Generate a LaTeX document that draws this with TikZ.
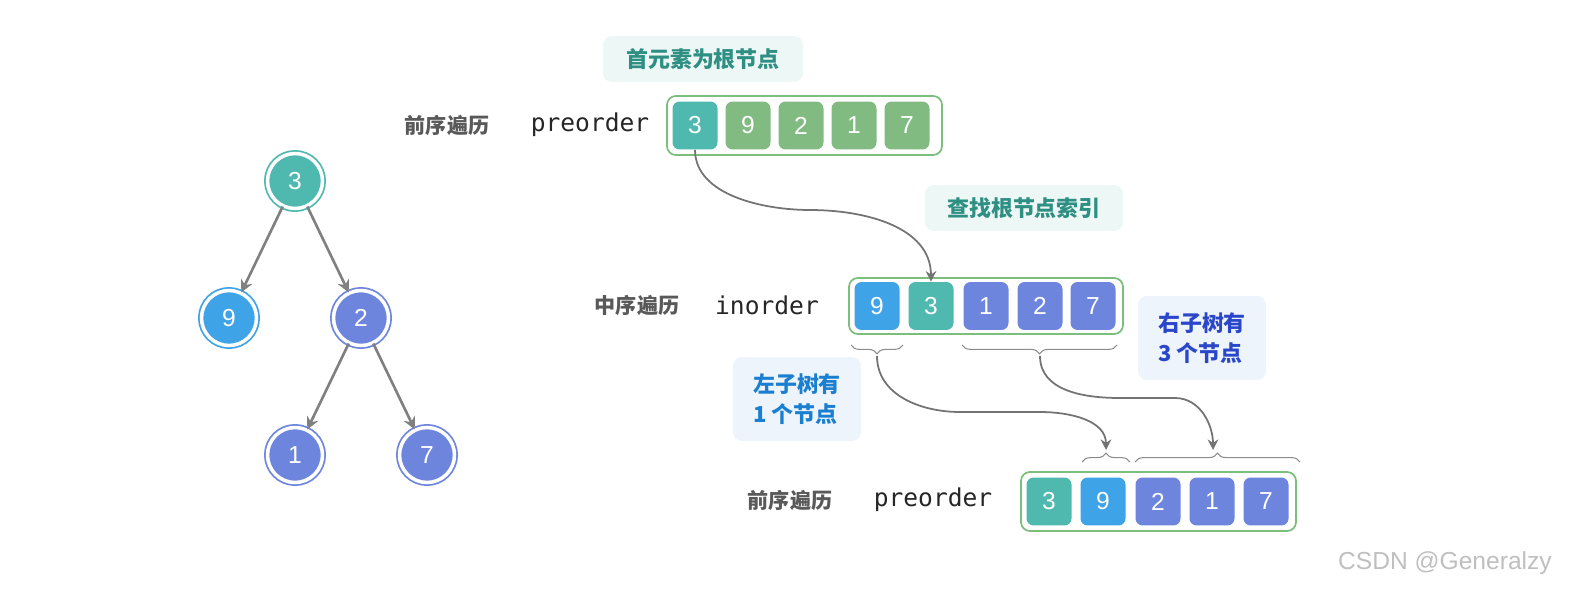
\documentclass[tikz,border=0pt]{standalone}
\usepackage{fontspec}
\setmainfont{Liberation Sans}
\setmonofont{DejaVu Sans Mono}
\newfontfamily\cjk{Noto Sans CJK SC}
\usetikzlibrary{decorations.pathreplacing,arrows.meta}
\definecolor{cteal}{HTML}{4FB9AF}
\definecolor{cgreen}{HTML}{82BB82}
\definecolor{cblue}{HTML}{3FA3E8}
\definecolor{cpur}{HTML}{6E85DE}
\definecolor{cbord}{HTML}{7CBF7C}
\definecolor{ltteal}{HTML}{EDF7F5}
\definecolor{ltblue}{HTML}{EEF4FC}
\definecolor{ttext}{HTML}{2E8F82}
\definecolor{btext}{HTML}{1A7FD0}
\definecolor{ptext}{HTML}{2B47C9}
\begin{document}
\begin{tikzpicture}[x=0.02cm,y=-0.02cm,
 cell/.style={rounded corners=4pt,minimum width=0.9cm,minimum height=0.96cm,text=white,font=\fontsize{14}{14}\selectfont,inner sep=0},
 outer/.style={draw=cbord,line width=1pt,rounded corners=5pt,fill=white},
 lab/.style={font=\cjk\bfseries\fontsize{12}{12}\selectfont,text=black!65},
 code/.style={font=\ttfamily\fontsize{14}{14}\selectfont,text=black!85},
 note/.style={rounded corners=5pt,font=\cjk\bfseries\fontsize{12.5}{17}\selectfont,align=left,inner sep=0},
 tn/.style={circle,minimum size=1.1cm,inner sep=0,text=white,font=\fontsize{14}{14}\selectfont,double=white,double distance=2pt,line width=1pt},
 edge/.style={draw=black!50,line width=1.5pt,-{Stealth[length=7pt,width=7pt]}},
 con/.style={draw=black!55,line width=1pt,-{Stealth[length=6pt,width=6pt]}},
 br/.style={draw=black!45,line width=0.6pt,decorate,decoration={brace,amplitude=5pt}}]
\useasboundingbox (0,0) rectangle (1593,598);
% tree
\node[tn,fill=cteal,draw=cteal] (t3) at (295,181) {3};
\node[tn,fill=cblue,draw=cblue] (t9) at (229,318) {9};
\node[tn,fill=cpur,draw=cpur] (t2) at (361,318) {2};
\node[tn,fill=cpur,draw=cpur] (t1) at (295,455) {1};
\node[tn,fill=cpur,draw=cpur] (t7) at (427,455) {7};
\draw[edge] (t3) -- (t9); \draw[edge] (t3) -- (t2);
\draw[edge] (t2) -- (t1); \draw[edge] (t2) -- (t7);
% top array
\node[note,fill=ltteal,text=ttext,minimum width=4cm,minimum height=0.92cm] (n1) at (703,59) {首元素为根节点};
\node[lab] (l1) at (447,125) {前序遍历};
\node[code] (c1) at (590,125) {preorder};
\node[outer,minimum width=5.5cm,minimum height=1.18cm] (a1) at (804.5,125.5) {};
\node[cell,fill=cteal] (p1) at (695,125.5) {3};
\node[cell,fill=cgreen] (p2) at (748,125.5) {9};
\node[cell,fill=cgreen] (p3) at (801,125.5) {2};
\node[cell,fill=cgreen] (p4) at (854,125.5) {1};
\node[cell,fill=cgreen] (p5) at (907,125.5) {7};
% middle array
\node[note,fill=ltteal,text=ttext,minimum width=3.96cm,minimum height=0.92cm] (n2) at (1024,208) {查找根节点索引};
\node[lab] (l2) at (637,305) {中序遍历};
\node[code] (c2) at (767,305) {inorder};
\node[outer,minimum width=5.48cm,minimum height=1.12cm] (a2) at (986,306) {};
\node[cell,fill=cblue] (i1) at (877,306) {9};
\node[cell,fill=cteal] (i2) at (931,306) {3};
\node[cell,fill=cpur] (i3) at (986,306) {1};
\node[cell,fill=cpur] (i4) at (1040,306) {2};
\node[cell,fill=cpur] (i5) at (1093,306) {7};
\draw[con] (p1.south) to[out=-90,in=180,looseness=0.9] (810,210) to[out=0,in=90] (i2.north);
% notes
\node[note,fill=ltblue,text=btext,minimum width=2.56cm,minimum height=1.68cm] (n3) at (797,399) {左子树有\\1 个节点};
\node[note,fill=ltblue,text=ptext,minimum width=2.56cm,minimum height=1.68cm] (n4) at (1202,338) {右子树有\\3 个节点};
% braces mid
\coordinate (b1a) at (851,345); \coordinate (b1b) at (903,345);
\coordinate (b2a) at (962,345); \coordinate (b2b) at (1117,345);
\draw[br] (b1b) -- (b1a);
\draw[br] (b2b) -- (b2a);
\coordinate (t1a) at (1082,462); \coordinate (t1b) at (1130,462);
\coordinate (t2a) at (1135,462); \coordinate (t2b) at (1300,462);
\draw[br] (t1a) -- (t1b);
\draw[br] (t2a) -- (t2b);
\coordinate (s1) at (877,356); \coordinate (e1) at (1106,450);
\coordinate (s2) at (1040,356); \coordinate (e2) at (1213,450);
\draw[con] (s1) to[out=-90,in=180] (960,412) -- (1040,412) to[out=0,in=90] (e1);
\draw[con] (s2) to[out=-90,in=180] (1120,398) -- (1175,398) to[out=0,in=90] (e2);
% bottom array
\node[lab] (l3) at (790,500) {前序遍历};
\node[code] (c3) at (933,500) {preorder};
\node[outer,minimum width=5.5cm,minimum height=1.18cm] (a3) at (1158.5,501.5) {};
\node[cell,fill=cteal] (q1) at (1049,501.5) {3};
\node[cell,fill=cblue] (q2) at (1103,501.5) {9};
\node[cell,fill=cpur] (q3) at (1158,501.5) {2};
\node[cell,fill=cpur] (q4) at (1212,501.5) {1};
\node[cell,fill=cpur] (q5) at (1266,501.5) {7};
\node[font=\fontsize{14}{14}\selectfont,text=black!25] (wm) at (1445,563) {CSDN @Generalzy};
\end{tikzpicture}
\end{document}
